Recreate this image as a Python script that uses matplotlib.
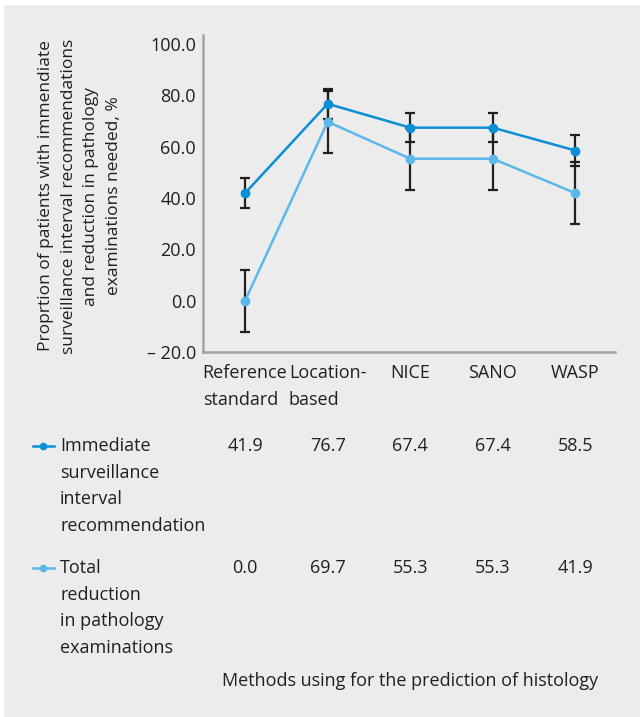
import matplotlib
matplotlib.use('Agg')
import matplotlib.pyplot as plt
from matplotlib.lines import Line2D
from matplotlib.patches import Rectangle
from matplotlib.transforms import blended_transform_factory

plt.rcParams['font.family'] = ['Open Sans', 'DejaVu Sans']

methods = ['Reference\nstandard', 'Location-\nbased', 'NICE', 'SANO', 'WASP']
immediate = [41.9, 76.7, 67.4, 67.4, 58.5]
immediate_err = [5.9, 5.8, 5.6, 5.6, 5.9]
reduction = [0.0, 69.7, 55.3, 55.3, 41.9]
reduction_err = [12.1, 12.0, 12.1, 12.1, 12.0]
row_labels = [['Immediate', 'surveillance', 'interval', 'recommendation'],
              ['Total', 'reduction', 'in pathology', 'examinations']]

c_dark = '#0b8fd6'
c_light = '#5cb8e8'
bg = '#ebeceb'
txt = '#231f20'

fig = plt.figure(figsize=(6.4, 7.17), dpi=100)
fig.patch.set_facecolor('white')
fig.add_artist(Rectangle((4 / 640, 0), 636 / 640, 712 / 717,
                         transform=fig.transFigure, facecolor=bg, edgecolor='none', zorder=-10))

ax = fig.add_axes([203 / 640, 1 - 352 / 717, 412 / 640, 317 / 717])
ax.set_facecolor(bg)
x = list(range(len(methods)))

ax.errorbar(x, immediate, yerr=immediate_err, fmt='none', ecolor=txt, elinewidth=1.6,
            capsize=3.5, capthick=1.6, zorder=2)
ax.errorbar(x, reduction, yerr=reduction_err, fmt='none', ecolor=txt, elinewidth=1.6,
            capsize=3.5, capthick=1.6, zorder=2)
ax.plot(x, reduction, color=c_light, lw=1.8, marker='o', ms=6, zorder=3)
ax.plot(x, immediate, color=c_dark, lw=1.8, marker='o', ms=6, zorder=4)

ax.set_xlim(-0.51, 4.48)
ax.set_ylim(-20, 103.5)
ax.set_yticks([-20, 0, 20, 40, 60, 80, 100])
ax.set_yticklabels(['\u2013 20.0', '0.0', '20.0', '40.0', '60.0', '80.0', '100.0'])
ax.set_xticks(x)
ax.set_xticklabels(methods, linespacing=1.6, multialignment='left')
ax.tick_params(length=0, labelsize=13, colors=txt, pad=5)
ax.tick_params(axis='x', pad=9)
for s in ['top', 'right']:
    ax.spines[s].set_visible(False)
for s in ['left', 'bottom']:
    ax.spines[s].set_color('#a3a3a3')
    ax.spines[s].set_linewidth(1.8)

fig.text(80 / 640, 1 - 196 / 717,
         'Proprtion of patients with immendiate\nsurveillance interval recommendations\n'
         'and reduction in pathology\nexaminations needed, %',
         rotation=90, ha='center', va='center', fontsize=12.5, color=txt,
         linespacing=1.55, multialignment='center')

# table under the chart
tr = blended_transform_factory(ax.transData, fig.transFigure)
rows = [(immediate, c_dark, 446), (reduction, c_light, 568)]
for (vals, col, ytop), lab in zip(rows, row_labels):
    yf = 1 - ytop / 717
    fig.add_artist(Line2D([33 / 640, 54 / 640], [yf, yf], color=col, lw=1.8,
                          transform=fig.transFigure))
    fig.add_artist(Line2D([43 / 640], [yf], color=col, marker='o', ms=4.5,
                          transform=fig.transFigure))
    for i, line in enumerate(lab):
        fig.text(60 / 640, 1 - (ytop + i * 26.7) / 717, line, ha='left', va='center',
                 fontsize=13, color=txt)
    for xi, v in zip(x, vals):
        ax.text(xi, yf, f'{v:.1f}', transform=tr, ha='center', va='center',
                fontsize=13, color=txt)

fig.text(410 / 640, 1 - 681 / 717, 'Methods using for the prediction of histology',
         ha='center', va='center', fontsize=13, color=txt)

fig.savefig('out.png', dpi=100, facecolor=fig.get_facecolor())
